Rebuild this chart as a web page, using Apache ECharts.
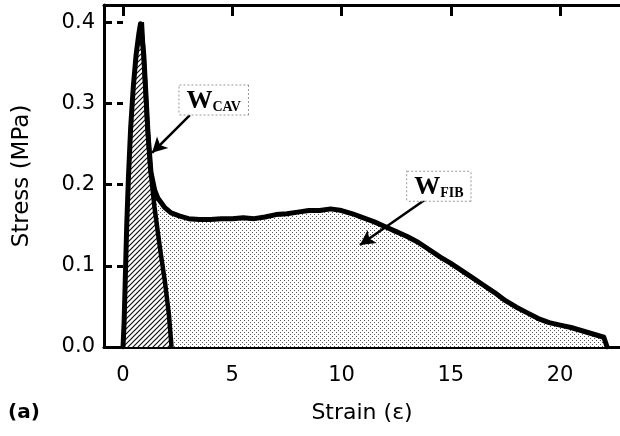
<!DOCTYPE html>
<html>
<head>
<meta charset="utf-8">
<script src="https://cdn.jsdelivr.net/npm/echarts@6/dist/echarts.min.js"></script>
<style>
  html, body { margin: 0; padding: 0; background: #fff; }
  #chart { width: 620px; height: 436px; }
</style>
</head>
<body>
<div id="chart"></div>
<script>
// Loading branch: from zero strain up to the stress peak
const loadStrain = [0.0, 0.05, 0.10, 0.17, 0.25, 0.35, 0.47, 0.60, 0.72, 0.80, 0.86];
const loadStress = [0.0, 0.03, 0.08, 0.15, 0.21, 0.27, 0.32, 0.36, 0.385, 0.398, 0.40];

// After the peak: drop, fibrillar plateau, then final decay to rupture
const postStrain = [0.95, 1.05, 1.15, 1.28, 1.45, 1.60, 1.90, 2.20, 2.60, 3.00, 3.50, 4.00, 4.50,
  5.00, 5.50, 6.00, 6.50, 7.00, 7.50, 8.00, 8.50, 9.00, 9.50, 10.00, 10.50, 11.00, 11.50,
  12.00, 12.50, 13.00, 13.50, 14.00, 14.50, 15.00, 15.50, 16.00, 16.50, 17.00, 17.50,
  18.00, 18.50, 19.00, 19.50, 20.00, 20.50, 21.00, 21.50, 22.00, 22.15];
const postStress = [0.36, 0.31, 0.26, 0.215, 0.193, 0.183, 0.172, 0.165, 0.161, 0.158, 0.157, 0.157, 0.158,
  0.158, 0.159, 0.158, 0.160, 0.163, 0.164, 0.166, 0.168, 0.168, 0.170, 0.168, 0.164, 0.159, 0.154,
  0.148, 0.142, 0.136, 0.129, 0.120, 0.111, 0.103, 0.094, 0.085, 0.076, 0.067, 0.057,
  0.049, 0.042, 0.035, 0.030, 0.027, 0.024, 0.020, 0.016, 0.012, 0.0];

// Unloading line bounding the cavitation work
const unloadStrain = [0.86, 1.00, 1.10, 1.25, 1.45, 1.70, 1.92, 2.10, 2.22];
const unloadStress = [0.40, 0.33, 0.28, 0.22, 0.17, 0.12, 0.08, 0.04, 0.0];

// Tick labels
const xTicks = [0, 5, 10, 15, 20];
const yTicks = [0.0, 0.1, 0.2, 0.3, 0.4];

// Annotation labels and arrow positions (data units)
const cavLabelPos = [4.15, 0.304];
const cavArrow = [[3.06, 0.2855], [1.33, 0.239]];
const fibLabelPos = [14.45, 0.198];
const fibArrow = [[13.8, 0.181], [10.84, 0.1255]];

const zip = (xs, ys) => xs.map((x, i) => [x, ys[i]]);

function makePattern(kind) {
  const c = document.createElement('canvas');
  const ctx = c.getContext('2d');
  if (kind === 'dots') {
    c.width = 4; c.height = 4;
    ctx.fillStyle = '#fff';
    ctx.fillRect(0, 0, 4, 4);
    ctx.fillStyle = '#555';
    ctx.fillRect(0, 0, 1, 1);
    ctx.fillRect(2, 2, 1, 1);
  } else {
    c.width = 5; c.height = 5;
    ctx.fillStyle = '#fff';
    ctx.fillRect(0, 0, 5, 5);
    ctx.strokeStyle = '#111';
    ctx.lineWidth = 1.2;
    ctx.beginPath();
    ctx.moveTo(-1, 6); ctx.lineTo(6, -1);
    ctx.moveTo(-1, 1); ctx.lineTo(1, -1);
    ctx.moveTo(4, 6); ctx.lineTo(6, 4);
    ctx.stroke();
  }
  return { image: c, repeat: 'repeat' };
}

const fullCurve = zip(loadStrain, loadStress).concat(zip(postStrain, postStress));
const peak = [loadStrain[loadStrain.length - 1], loadStress[loadStress.length - 1]];
const fibArea = [peak].concat(zip(postStrain, postStress));
const cavArea = zip(loadStrain, loadStress).concat(zip(unloadStrain, unloadStress).slice(1));

const axisFont = 'DejaVu Sans';
const labelRich = {
  w: { fontFamily: 'Liberation Serif', fontWeight: 'bold', fontSize: 26, color: '#000', lineHeight: 28, verticalAlign: 'bottom' },
  s: { fontFamily: 'Liberation Serif', fontWeight: 'bold', fontSize: 14, color: '#000', lineHeight: 24, verticalAlign: 'bottom' }
};
function boxLabel(sub) {
  return {
    show: true,
    position: 'inside',
    formatter: '{w|W}{s|' + sub + '}',
    rich: labelRich,
    backgroundColor: '#fff',
    borderColor: '#999',
    borderWidth: 1,
    borderType: 'dotted',
    padding: [1, 7, 0, 7]
  };
}

const chart = echarts.init(document.getElementById('chart'), null, { renderer: 'canvas' });
chart.setOption({
  animation: false,
  backgroundColor: '#fff',
  grid: { left: 104, right: 0, top: 5, bottom: 89 },
  xAxis: [{
    type: 'value', position: 'bottom', min: -0.87, max: 22.74,
    name: 'Strain (\u03b5)', nameLocation: 'middle', nameGap: 55,
    nameTextStyle: { fontFamily: axisFont, fontSize: 22, color: '#000' },
    axisLine: { show: true, onZero: false, lineStyle: { color: '#000', width: 3 } },
    axisTick: { show: false },
    splitLine: { show: false },
    axisLabel: { customValues: xTicks, margin: 18, fontFamily: axisFont, fontSize: 21, color: '#000' }
  }, {
    type: 'value', position: 'top', min: -0.87, max: 22.74,
    axisLine: { show: true, onZero: false, lineStyle: { color: '#000', width: 3 } },
    axisTick: { show: true, inside: true, length: 11, customValues: xTicks, lineStyle: { color: '#000', width: 3 } },
    splitLine: { show: false },
    axisLabel: { show: false }
  }],
  yAxis: [{
    type: 'value', position: 'left', min: 0, max: 0.421,
    name: 'Stress (MPa)', nameLocation: 'middle', nameGap: 70,
    nameTextStyle: { fontFamily: axisFont, fontSize: 23, color: '#000' },
    axisLine: { show: true, onZero: false, lineStyle: { color: '#000', width: 3 } },
    axisTick: { show: true, inside: true, length: 8, customValues: yTicks, lineStyle: { color: '#000', width: 3 } },
    splitLine: { show: false },
    axisLabel: { customValues: yTicks, margin: 9, fontFamily: axisFont, fontSize: 21, color: '#000',
      formatter: v => v.toFixed(1) }
  }, {
    type: 'value', position: 'right', min: 0, max: 0.421,
    axisLine: { show: false },
    axisTick: { show: true, inside: true, length: 6, customValues: yTicks, lineStyle: { color: '#000', width: 3 } },
    splitLine: { show: false },
    axisLabel: { show: false }
  }],
  graphic: [{
    type: 'text', left: 8, top: 403,
    style: { text: '(a)', fontFamily: axisFont, fontWeight: 'bold', fontSize: 20, fill: '#000' }
  }],
  series: [{
    name: 'W_FIB area', type: 'line', data: fibArea, showSymbol: false, z: 1,
    lineStyle: { width: 0 },
    areaStyle: { color: makePattern('dots'), opacity: 1 }
  }, {
    name: 'W_CAV area', type: 'line', data: cavArea, showSymbol: false, z: 2,
    lineStyle: { width: 0 },
    areaStyle: { color: makePattern('hatch'), opacity: 1 }
  }, {
    name: 'unloading', type: 'line', data: zip(unloadStrain, unloadStress), showSymbol: false, z: 3,
    lineStyle: { color: '#000', width: 4.5, join: 'round' }
  }, {
    name: 'stress-strain', type: 'line', data: fullCurve, showSymbol: false, z: 4,
    lineStyle: { color: '#000', width: 5, join: 'round', cap: 'round' },
    markLine: {
      silent: true, symbol: ['none', 'arrow'], symbolSize: [12, 15],
      lineStyle: { color: '#000', width: 2.5, type: 'solid' },
      label: { show: false },
      data: [
        [{ coord: cavArrow[0] }, { coord: cavArrow[1] }],
        [{ coord: fibArrow[0] }, { coord: fibArrow[1] }]
      ]
    },
    markPoint: {
      silent: true, symbol: 'rect', symbolSize: 1,
      itemStyle: { color: 'rgba(0,0,0,0)' },
      data: [
        { coord: cavLabelPos, label: boxLabel('CAV') },
        { coord: fibLabelPos, label: boxLabel('FIB') }
      ]
    }
  }]
});
</script>
</body>
</html>
